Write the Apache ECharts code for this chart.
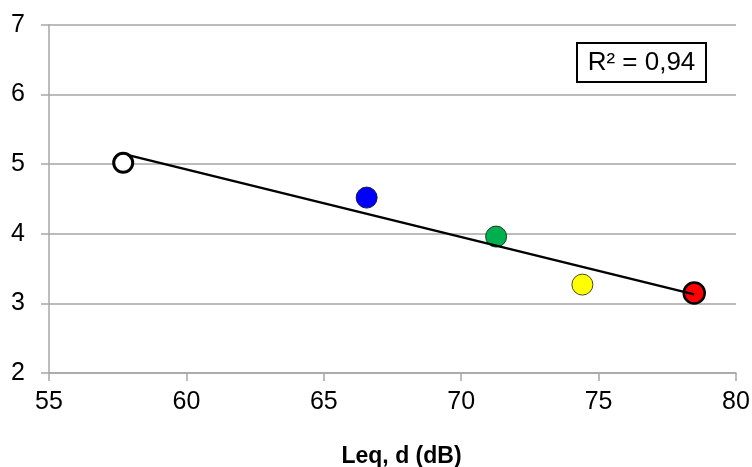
<!DOCTYPE html>
<html>
<head>
<meta charset="utf-8">
<script src="https://cdn.jsdelivr.net/npm/echarts@6/dist/echarts.min.js"></script>
<style>
  html, body { margin: 0; padding: 0; background: #fff; }
  #chart { width: 752px; height: 467px; }
</style>
</head>
<body>
<div id="chart"></div>
<script>
// Noise level Leq,d (dB) against the rating for each site
const leq = [57.7, 66.56, 71.27, 74.41, 78.48];
const rating = [5.02, 4.52, 3.96, 3.27, 3.15];
const fills = ['#ffffff', '#0000ff', '#00b050', '#ffff00', '#ff0000'];
const borders = ['#000000', '#1a1a40', '#1a3a1a', '#4a4a10', '#000000'];
const borderWidths = [3, 1, 1, 1, 2.5];
const xTicks = [55, 60, 65, 70, 75, 80];
const yTicks = [2, 3, 4, 5, 6, 7];
const rSquaredText = 'R² = 0,94';

// Least-squares trend line over the points
function fitLine(xs, ys) {
  const n = xs.length;
  const mx = xs.reduce((a, b) => a + b, 0) / n;
  const my = ys.reduce((a, b) => a + b, 0) / n;
  let sxy = 0, sxx = 0;
  for (let i = 0; i < n; i++) {
    sxy += (xs[i] - mx) * (ys[i] - my);
    sxx += (xs[i] - mx) * (xs[i] - mx);
  }
  const slope = sxy / sxx;
  const icpt = my - slope * mx;
  const x0 = Math.min(...xs), x1 = Math.max(...xs);
  return [[x0, icpt + slope * x0], [x1, icpt + slope * x1]];
}
const trend = fitLine(leq, rating);

const font = 'Liberation Sans, Arial, sans-serif';
const gridColor = '#a6a6a6';

const pointData = leq.map((x, i) => ({
  value: [x, rating[i]],
  itemStyle: { color: fills[i], borderColor: borders[i], borderWidth: borderWidths[i], opacity: 1 }
}));

const chart = echarts.init(document.getElementById('chart'), null, { renderer: 'canvas' });
chart.setOption({
  animation: false,
  backgroundColor: '#ffffff',
  grid: { left: 49, right: 16, top: 25, bottom: 94, containLabel: false, outerBoundsMode: 'none' },
  xAxis: {
    type: 'value',
    min: xTicks[0], max: xTicks[xTicks.length - 1], interval: 5,
    name: 'Leq, d (dB)',
    nameLocation: 'middle',
    nameGap: 72,
    nameTextStyle: { fontFamily: font, fontSize: 23, fontWeight: 'bold', color: '#000', padding: [0, 0, 0, 18] },
    axisLine: { lineStyle: { color: gridColor, width: 1.5 } },
    axisTick: { show: true, length: 8, inside: false, lineStyle: { color: gridColor, width: 1.5 } },
    axisLabel: { fontFamily: font, fontSize: 25, color: '#000', margin: 17 },
    splitLine: { show: false }
  },
  yAxis: {
    type: 'value',
    min: yTicks[0], max: yTicks[yTicks.length - 1], interval: 1,
    axisLine: { show: true, lineStyle: { color: gridColor, width: 1.5 } },
    axisTick: { show: true, length: 8, lineStyle: { color: gridColor, width: 1.5 } },
    axisLabel: { fontFamily: font, fontSize: 25, color: '#000', margin: 24 },
    splitLine: { show: true, lineStyle: { color: gridColor, width: 1.5 } }
  },
  series: [
    {
      type: 'scatter',
      symbol: 'circle',
      symbolSize: 21,
      z: 2,
      data: pointData.slice(1)
    },
    {
      type: 'line',
      data: trend,
      symbol: 'none',
      z: 3,
      lineStyle: { color: '#000', width: 2.5 }
    },
    {
      type: 'scatter',
      symbol: 'circle',
      symbolSize: 19,
      z: 4,
      data: pointData.slice(0, 1)
    }
  ],
  graphic: [
    {
      type: 'group',
      left: 576, top: 42,
      children: [
        { type: 'rect', shape: { x: 0, y: 0, width: 129, height: 39 },
          style: { fill: '#fff', stroke: '#000', lineWidth: 2 } },
        { type: 'text', x: 64.5, y: 20,
          style: { text: rSquaredText, fontFamily: font, fontSize: 26, fill: '#000',
                   align: 'center', verticalAlign: 'middle' } }
      ]
    }
  ]
});
</script>
</body>
</html>
